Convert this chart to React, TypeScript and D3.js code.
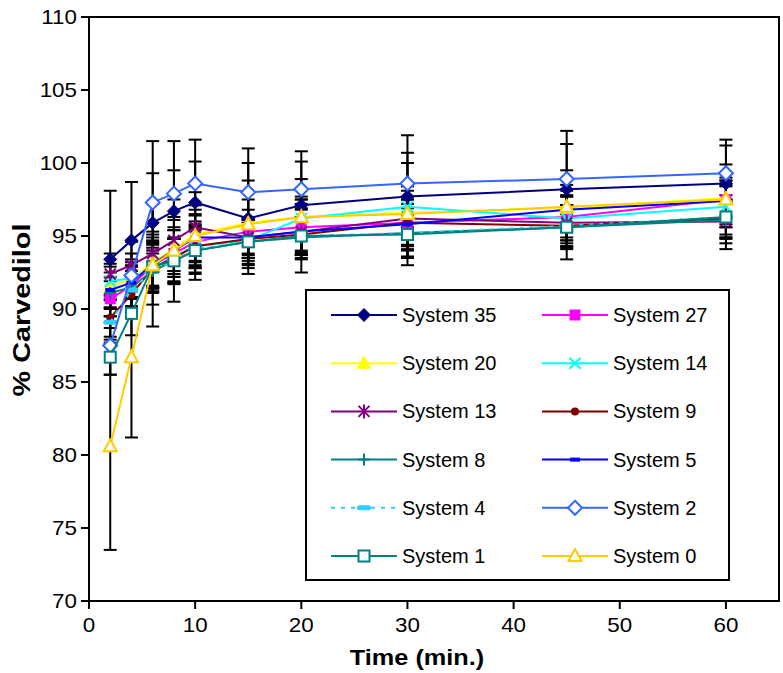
import React from "react";
import * as d3 from "d3";

const times = [2, 4, 6, 8, 10, 15, 20, 30, 45, 60];
const xTicks = [0, 10, 20, 30, 40, 50, 60];
const yTicks = [70, 75, 80, 85, 90, 95, 100, 105, 110];

const s35 = [93.4, 94.7, 95.9, 96.7, 97.3, 96.2, 97.1, 97.7, 98.2, 98.6];
const s27 = [90.7, 91.6, 93.0, 93.8, 94.6, 95.3, 95.6, 95.9, 96.3, 97.5];
const s20 = [91.6, 92.0, 93.2, 94.1, 95.1, 95.9, 96.3, 96.6, 96.9, 97.6];
const s14 = [91.9, 92.1, 92.8, 93.6, 94.3, 94.7, 96.2, 97.0, 96.2, 97.0];
const s13 = [92.4, 93.0, 93.8, 94.7, 95.6, 94.9, 95.3, 96.2, 95.9, 96.0];
const s9 = [89.4, 91.0, 92.8, 93.5, 94.3, 94.8, 95.1, 95.9, 95.7, 96.2];
const s8 = [91.1, 91.5, 92.6, 93.3, 94.0, 94.6, 94.9, 95.2, 95.6, 96.1];
const s5 = [91.3, 91.8, 93.1, 94.0, 94.9, 94.9, 95.3, 95.8, 96.8, 97.4];
const s4 = [89.1, 91.3, 92.6, 93.3, 94.1, 94.6, 95.0, 95.2, 95.7, 96.3];
const s2 = [87.5, 92.3, 97.3, 97.9, 98.6, 98.0, 98.2, 98.6, 98.9, 99.3];
const s1 = [86.7, 89.7, 92.9, 93.3, 94.0, 94.6, 95.0, 95.1, 95.6, 96.3];
const s0 = [80.6, 86.7, 93.0, 94.0, 95.0, 95.8, 96.3, 96.5, 97.0, 97.5];

const sd35 = [4.7, 4.0, 5.6, 4.8, 4.3, 3.8, 3.7, 4.2, 4.0, 3.0];
const sd27 = [1.2, 1.4, 1.5, 1.6, 1.4, 1.5, 1.6, 1.8, 1.4, 1.3];
const sd20 = [1.5, 1.2, 1.7, 1.5, 1.3, 1.6, 1.4, 1.5, 1.6, 1.2];
const sd14 = [1.0, 1.3, 1.4, 1.2, 1.5, 1.2, 1.3, 1.4, 1.5, 1.4];
const sd13 = [1.4, 1.6, 1.3, 1.4, 1.2, 1.4, 1.5, 1.3, 1.2, 1.5];
const sd9 = [1.3, 1.2, 1.6, 1.3, 1.4, 1.3, 1.2, 1.6, 1.4, 1.3];
const sd8 = [1.1, 1.4, 1.2, 1.6, 1.5, 1.6, 1.4, 1.2, 1.5, 1.2];
const sd5 = [1.2, 1.1, 1.5, 1.4, 1.6, 1.2, 1.6, 1.4, 1.3, 1.6];
const sd4 = [1.5, 1.3, 1.4, 1.5, 1.3, 1.5, 1.3, 1.7, 1.4, 1.5];
const sd2 = [2.0, 1.5, 2.0, 1.6, 1.5, 3.0, 1.9, 2.1, 2.4, 1.9];
const sd1 = [1.2, 1.5, 1.8, 1.5, 1.6, 1.3, 2.5, 1.5, 2.2, 2.2];
const sd0 = [7.1, 5.5, 4.2, 3.5, 3.0, 3.0, 2.6, 3.5, 2.5, 2.4];

type Marker =
  | "diamondFilled" | "squareFilled" | "triangleFilled" | "x" | "star"
  | "circle" | "plus" | "dash" | "dashThick" | "diamondOpen" | "squareOpen" | "triangleOpen";

interface Series { name: string; values: number[]; sd: number[]; color: string; marker: Marker; dashed?: boolean; }

const series: Series[] = [
  { name: "System 35", values: s35, sd: sd35, color: "#000080", marker: "diamondFilled" },
  { name: "System 27", values: s27, sd: sd27, color: "#FF00FF", marker: "squareFilled" },
  { name: "System 20", values: s20, sd: sd20, color: "#FFFF00", marker: "triangleFilled" },
  { name: "System 14", values: s14, sd: sd14, color: "#00FFFF", marker: "x" },
  { name: "System 13", values: s13, sd: sd13, color: "#800080", marker: "star" },
  { name: "System 9", values: s9, sd: sd9, color: "#800000", marker: "circle" },
  { name: "System 8", values: s8, sd: sd8, color: "#008080", marker: "plus" },
  { name: "System 5", values: s5, sd: sd5, color: "#0000FF", marker: "dash" },
  { name: "System 4", values: s4, sd: sd4, color: "#33CCFF", marker: "dashThick", dashed: true },
  { name: "System 2", values: s2, sd: sd2, color: "#3366FF", marker: "diamondOpen" },
  { name: "System 1", values: s1, sd: sd1, color: "#008080", marker: "squareOpen" },
  { name: "System 0", values: s0, sd: sd0, color: "#FFCC00", marker: "triangleOpen" },
];

const legendLeft = ["System 35", "System 20", "System 13", "System 8", "System 4", "System 1"];
const legendRight = ["System 27", "System 14", "System 9", "System 5", "System 2", "System 0"];

const W = 783, H = 673;
const x = d3.scaleLinear().domain([0, 65]).range([89, 779]);
const y = d3.scaleLinear().domain([70, 110]).range([601, 17]);
const FONT = "'Liberation Sans', Arial, Helvetica, sans-serif";

function MarkerShape({ m, color, cx, cy }: { m: Marker; color: string; cx: number; cy: number }) {
  const t = `translate(${cx},${cy})`;
  switch (m) {
    case "diamondFilled":
      return <path transform={t} d="M0,-6.5L6.5,0L0,6.5L-6.5,0Z" fill={color} stroke={color} strokeWidth={1} />;
    case "squareFilled":
      return <rect transform={t} x={-5.5} y={-5.5} width={11} height={11} fill={color} />;
    case "triangleFilled":
      return <path transform={t} d="M0,-7L6.5,5L-6.5,5Z" fill={color} stroke={color} strokeWidth={1} />;
    case "x":
      return <path transform={t} d="M-5.5,-5.5L5.5,5.5M-5.5,5.5L5.5,-5.5" stroke={color} strokeWidth={2} fill="none" />;
    case "star":
      return <path transform={t} d="M-5.5,-5.5L5.5,5.5M-5.5,5.5L5.5,-5.5M0,-7L0,7" stroke={color} strokeWidth={2} fill="none" />;
    case "circle":
      return <circle cx={cx} cy={cy} r={4} fill={color} />;
    case "plus":
      return <path transform={t} d="M0,-6L0,6M-6,0L6,0" stroke={color} strokeWidth={2} fill="none" />;
    case "dash":
      return <rect transform={t} x={-5} y={-2} width={10} height={4} fill={color} />;
    case "dashThick":
      return <rect transform={t} x={-7} y={-2.5} width={14} height={5} rx={2.5} fill={color} />;
    case "diamondOpen":
      return <path transform={t} d="M0,-7L7,0L0,7L-7,0Z" fill="white" stroke={color} strokeWidth={2} />;
    case "squareOpen":
      return <rect transform={t} x={-5.5} y={-5.5} width={11} height={11} fill="white" stroke={color} strokeWidth={2} />;
    case "triangleOpen":
      return <path transform={t} d="M0,-7L6.5,5L-6.5,5Z" fill="white" stroke={color} strokeWidth={2} />;
  }
  return null;
}

function SText({ x: tx, y: ty, sx = 1, anchor = "start", size, weight = "normal", children, rotate = 0 }: any) {
  return (
    <g transform={`translate(${tx},${ty}) rotate(${rotate}) scale(${sx},1)`}>
      <text x={0} y={0} textAnchor={anchor} fontFamily={FONT} fontSize={size} fontWeight={weight} fill="#000">
        {children}
      </text>
    </g>
  );
}

export default function App() {
  const line = d3.line<number>().x((_, i) => x(times[i])).y((v) => y(v));
  const byName = (n: string) => series.find((s) => s.name === n)!;
  const rowY = (i: number) => 315 + i * 48.2;

  const legendEntry = (name: string, i: number, lx: number) => {
    const s = byName(name);
    const cy = rowY(i);
    return (
      <g key={name}>
        <line x1={lx} x2={lx + 66} y1={cy} y2={cy} stroke={s.color} strokeWidth={2}
          strokeDasharray={s.dashed ? "4,6" : undefined} />
        <MarkerShape m={s.marker} color={s.color} cx={lx + 33} cy={cy} />
        <SText x={lx + 71} y={cy + 7} size={20} sx={1.0}>{name}</SText>
      </g>
    );
  };

  return (
    <svg width={W} height={H} style={{ position: "absolute", left: 0, top: 0, background: "#fff" }}>
      <rect x={0} y={0} width={W} height={H} fill="#fff" />
      {/* error bars */}
      <g stroke="#000" strokeWidth={2}>
        {series.map((s) =>
          s.values.map((v, i) => {
            const cx = x(times[i]);
            const hi = y(v + s.sd[i]);
            const lo = y(v - s.sd[i]);
            return (
              <g key={s.name + i}>
                <line x1={cx} x2={cx} y1={hi} y2={lo} />
                <line x1={cx - 6.5} x2={cx + 6.5} y1={hi} y2={hi} />
                <line x1={cx - 6.5} x2={cx + 6.5} y1={lo} y2={lo} />
              </g>
            );
          })
        )}
      </g>
      {/* series */}
      {series.map((s) => (
        <g key={s.name}>
          <path d={line(s.values) || ""} fill="none" stroke={s.color} strokeWidth={2}
            strokeDasharray={s.dashed ? "4,6" : undefined} />
          {s.values.map((v, i) => (
            <MarkerShape key={i} m={s.marker} color={s.color} cx={x(times[i])} cy={y(v)} />
          ))}
        </g>
      ))}
      {/* frame */}
      <rect x={x(0)} y={y(110)} width={x(65) - x(0)} height={y(70) - y(110)} fill="none" stroke="#000" strokeWidth={2} />
      {/* y axis ticks */}
      {yTicks.map((t) => (
        <g key={"y" + t}>
          <line x1={x(0) - 8} x2={x(0)} y1={y(t)} y2={y(t)} stroke="#000" strokeWidth={2} />
          <SText x={x(0) - 12} y={y(t) + 7} anchor="end" size={20} sx={1.12}>{t}</SText>
        </g>
      ))}
      {xTicks.map((t) => (
        <g key={"x" + t}>
          <line x1={x(t)} x2={x(t)} y1={y(70)} y2={y(70) + 8} stroke="#000" strokeWidth={2} />
          <SText x={x(t)} y={y(70) + 31} anchor="middle" size={20} sx={1.12}>{t}</SText>
        </g>
      ))}
      {/* axis titles */}
      <SText x={417} y={665} anchor="middle" size={22} weight="bold" sx={1.15}>Time (min.)</SText>
      <SText x={30} y={310} anchor="middle" size={24} weight="bold" rotate={-90} sx={1.2}>% Carvedilol</SText>
      {/* legend */}
      <rect x={306} y={290} width={423} height={290} fill="#fff" stroke="#000" strokeWidth={2} />
      {legendLeft.map((n, i) => legendEntry(n, i, 331))}
      {legendRight.map((n, i) => legendEntry(n, i, 542))}
    </svg>
  );
}
